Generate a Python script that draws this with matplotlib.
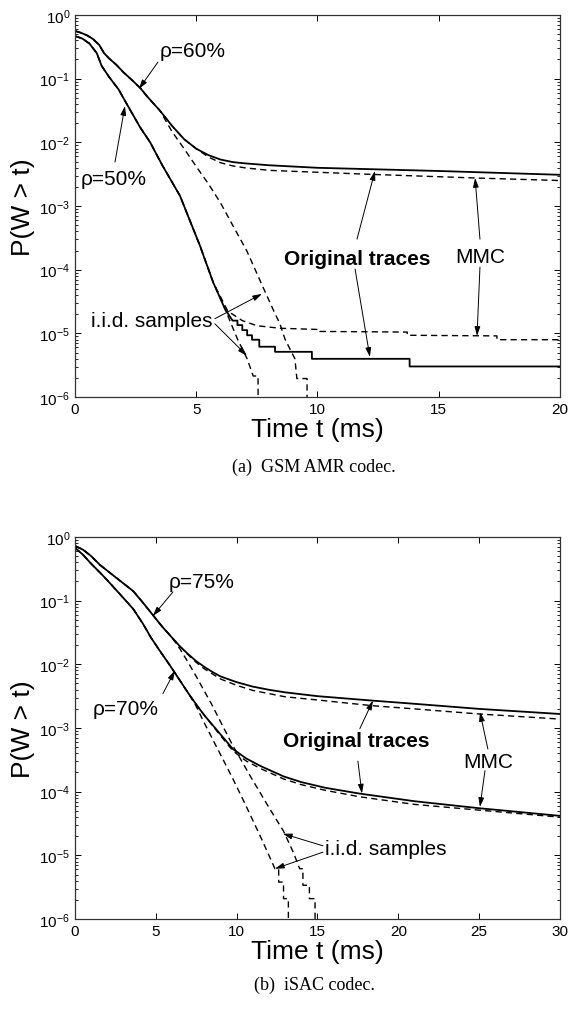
import matplotlib
matplotlib.use("Agg")
import matplotlib.pyplot as plt

plt.rcParams["font.family"] = ["Liberation Sans", "DejaVu Sans"]
plt.rcParams["mathtext.fontset"] = "custom"
plt.rcParams["mathtext.rm"] = "Liberation Sans"
plt.rcParams["mathtext.it"] = "Liberation Sans:italic"

# ---- (a) GSM AMR codec: czas [ms], log10 P(W > t) ----
a60_t = [0, 0.25, 0.5, 0.75, 1.0, 1.2, 1.4, 1.7, 2.0, 2.4, 2.7, 3.0, 3.5, 4.0, 4.5, 5.0, 5.5,
         6.0, 6.5, 7.0, 8.0, 10.0, 15.0, 20.0]
a60_orig = [-0.25, -0.28, -0.32, -0.38, -0.47, -0.60, -0.68, -0.78, -0.90, -1.04, -1.15, -1.29,
            -1.50, -1.74, -1.95, -2.10, -2.20, -2.27, -2.31, -2.33, -2.36, -2.40, -2.45, -2.51]
a60_mmc_t = [0, 0.25, 0.5, 0.75, 1.0, 1.2, 1.4, 1.7, 2.0, 2.4, 2.7, 3.0, 3.5, 4.0, 4.5, 5.0,
             5.5, 6.0, 6.5, 7.0, 8.0, 10.0, 12.0, 16.5, 20.0]
a60_mmc = [-0.25, -0.28, -0.32, -0.38, -0.47, -0.60, -0.68, -0.78, -0.90, -1.04, -1.15, -1.29,
           -1.50, -1.74, -1.95, -2.10, -2.23, -2.32, -2.37, -2.40, -2.44, -2.47, -2.50, -2.56,
           -2.60]
a60_iid_t = [0, 0.25, 0.5, 0.75, 1.0, 1.2, 1.4, 1.7, 2.0, 2.4, 2.7, 3.0, 3.5, 4.0, 4.5, 5.0,
             5.5, 6.0, 6.5, 7.08, 7.76, 8.2, 8.45, 8.66, 9.07, 9.15, 9.57, 9.57]
a60_iid = [-0.25, -0.28, -0.32, -0.38, -0.47, -0.60, -0.68, -0.78, -0.90, -1.04, -1.15, -1.29,
           -1.50, -1.83, -2.10, -2.38, -2.65, -2.95, -3.30, -3.70, -4.28, -4.65, -4.85, -5.09,
           -5.40, -5.71, -5.71, -6.5]

a50_t = [0, 0.3, 0.6, 0.9, 1.1, 1.4, 1.8, 2.14, 2.68, 3.1, 3.6, 4.33, 5.15, 5.7, 6.19, 6.5, 6.7,
         6.7, 6.9, 6.9, 7.1, 7.1, 7.3, 7.3, 7.6, 7.6, 8.25, 8.25, 9.77, 9.77, 13.8, 13.8, 20.0]
a50_orig = [-0.33, -0.37, -0.45, -0.60, -0.80, -0.97, -1.17, -1.40, -1.76, -2.00, -2.36, -2.84,
            -3.62, -4.20, -4.62, -4.80, -4.80, -4.87, -4.87, -4.95, -4.95, -5.03, -5.03, -5.10,
            -5.10, -5.21, -5.21, -5.29, -5.29, -5.40, -5.40, -5.52, -5.52]
a50_mmc_t = [0, 0.3, 0.6, 0.9, 1.1, 1.4, 1.8, 2.14, 2.68, 3.1, 3.6, 4.33, 5.15, 5.7, 6.3, 6.9,
             7.5, 8.45, 10.1, 10.1, 13.7, 13.7, 17.4, 17.4, 20.0]
a50_mmc = [-0.33, -0.37, -0.45, -0.60, -0.80, -0.97, -1.17, -1.40, -1.76, -2.00, -2.36, -2.84,
           -3.62, -4.20, -4.65, -4.80, -4.88, -4.92, -4.94, -4.97, -4.98, -5.03, -5.04, -5.10,
           -5.10]
a50_iid_t = [0, 0.3, 0.6, 0.9, 1.1, 1.4, 1.8, 2.14, 2.68, 3.1, 3.6, 4.33, 5.15, 5.7, 6.19, 6.7,
             7.1, 7.35, 7.55, 7.55]
a50_iid = [-0.33, -0.37, -0.45, -0.60, -0.80, -0.97, -1.17, -1.40, -1.76, -2.00, -2.36, -2.84,
           -3.62, -4.20, -4.62, -5.09, -5.40, -5.67, -5.67, -6.5]

# ---- (b) iSAC codec ----
b75_t = [0, 0.5, 1.0, 1.55, 2.0, 2.5, 3.0, 3.6, 4.2, 4.8, 5.4, 6.0, 6.5, 7.0, 7.5, 8.0, 8.5,
         9.0, 10.0, 11.0, 12.0, 13.0, 15.0, 18.4, 21.0, 25.0, 30.0]
b75_orig = [-0.14, -0.20, -0.30, -0.44, -0.53, -0.63, -0.73, -0.85, -1.03, -1.22, -1.41, -1.58,
            -1.72, -1.84, -1.95, -2.04, -2.12, -2.19, -2.28, -2.35, -2.40, -2.44, -2.50, -2.57,
            -2.62, -2.70, -2.78]
b75_mmc_t = [0, 0.5, 1.0, 1.55, 2.0, 2.5, 3.0, 3.6, 4.2, 4.8, 5.4, 6.0, 6.5, 7.0, 7.5, 8.0,
             8.5, 9.0, 10.0, 11.0, 12.0, 13.0, 15.0, 18.4, 21.0, 25.0, 30.0]
b75_mmc = [-0.14, -0.20, -0.30, -0.44, -0.53, -0.63, -0.73, -0.85, -1.03, -1.22, -1.41, -1.58,
           -1.72, -1.85, -1.97, -2.07, -2.15, -2.23, -2.33, -2.41, -2.46, -2.51, -2.56, -2.65,
           -2.70, -2.78, -2.86]
b75_iid_t = [0, 0.5, 1.0, 1.55, 2.0, 2.5, 3.0, 3.6, 4.2, 4.8, 5.4, 6.0, 6.5, 7.0, 7.5, 8.0, 8.5,
             9.0, 9.77, 10.9, 12.0, 12.9, 13.5, 13.9, 14.1, 14.1, 14.5, 14.5, 14.85, 14.85]
b75_iid = [-0.14, -0.20, -0.30, -0.44, -0.53, -0.63, -0.73, -0.85, -1.03, -1.22, -1.41, -1.58,
           -1.76, -1.97, -2.19, -2.42, -2.65, -2.90, -3.28, -3.78, -4.25, -4.62, -4.95, -5.21,
           -5.21, -5.47, -5.47, -5.68, -5.68, -6.5]

b70_t = [0, 0.5, 1.0, 1.55, 2.0, 2.5, 3.0, 3.6, 4.2, 4.7, 5.2, 5.8, 6.3, 7.0, 7.5, 8.0, 8.5,
         9.0, 9.77, 10.6, 11.5, 12.9, 14.0, 15.5, 17.6, 21.0, 25.0, 30.0]
b70_orig = [-0.17, -0.28, -0.42, -0.56, -0.68, -0.82, -0.96, -1.13, -1.36, -1.58, -1.77, -1.99,
            -2.18, -2.45, -2.63, -2.80, -2.95, -3.10, -3.33, -3.48, -3.60, -3.76, -3.85, -3.94,
            -4.03, -4.15, -4.26, -4.38]
b70_mmc_t = [0, 0.5, 1.0, 1.55, 2.0, 2.5, 3.0, 3.6, 4.2, 4.7, 5.2, 5.8, 6.3, 7.0, 7.5, 8.0,
             8.5, 9.0, 9.77, 10.6, 11.5, 12.9, 14.0, 15.5, 17.6, 21.0, 25.0, 30.0]
b70_mmc = [-0.17, -0.28, -0.42, -0.56, -0.68, -0.82, -0.96, -1.13, -1.36, -1.58, -1.77, -1.99,
           -2.18, -2.45, -2.63, -2.80, -2.96, -3.12, -3.36, -3.52, -3.64, -3.80, -3.89, -3.98,
           -4.08, -4.20, -4.29, -4.40]
b70_iid_t = [0, 0.5, 1.0, 1.55, 2.0, 2.5, 3.0, 3.6, 4.2, 4.7, 5.2, 5.8, 6.3, 7.0, 7.5, 7.9, 8.5,
             9.15, 9.77, 10.5, 11.5, 12.37, 12.6, 12.6, 12.9, 12.9, 13.2, 13.2]
b70_iid = [-0.17, -0.28, -0.42, -0.56, -0.68, -0.82, -0.96, -1.13, -1.36, -1.58, -1.77, -1.99,
           -2.18, -2.45, -2.66, -2.87, -3.17, -3.49, -3.80, -4.18, -4.72, -5.21, -5.21, -5.42,
           -5.42, -5.68, -5.68, -6.5]


def p(vals):
    return [10.0 ** v for v in vals]


def arrow(ax, tail, tip):
    ax.annotate("", xy=tip, xytext=tail,
                arrowprops=dict(arrowstyle="-|>,head_length=0.55,head_width=0.17",
                                lw=0.7, color="k", shrinkA=0, shrinkB=0))


def setup(ax, xmax, xt):
    ax.set_yscale("log")
    ax.set_ylim(1e-6, 1)
    ax.set_xlim(0, xmax)
    ax.set_xticks(xt)
    ax.set_yticks([1e-6, 1e-5, 1e-4, 1e-3, 1e-2, 1e-1, 1])
    ax.tick_params(which="both", direction="in", top=True, right=True, labelsize=11)
    ax.tick_params(which="major", length=4, width=0.7)
    ax.tick_params(which="minor", length=2.2, width=0.6)
    for s in ax.spines.values():
        s.set_linewidth(0.9)
        s.set_color("#333333")
    ax.set_xlabel("Time t (ms)", fontsize=19, labelpad=1)
    ax.set_ylabel("P(W > t)", fontsize=19, labelpad=3)


fig = plt.figure(figsize=(5.71, 10.12), dpi=100)
ax1 = fig.add_axes([0.1313, 0.6067, 0.8494, 0.3775])
ax2 = fig.add_axes([0.1313, 0.0909, 0.8494, 0.3775])

solid = dict(color="k", lw=1.3)
dash = dict(color="k", lw=1.0, dashes=(4.5, 3))

# panel (a)
ax1.plot(a60_iid_t, p(a60_iid), **dash)
ax1.plot(a50_iid_t, p(a50_iid), **dash)
ax1.plot(a60_mmc_t, p(a60_mmc), **dash)
ax1.plot(a50_mmc_t, p(a50_mmc), **dash)
ax1.plot(a60_t, p(a60_orig), **solid)
ax1.plot(a50_t, p(a50_orig), **solid)
setup(ax1, 20, [0, 5, 10, 15, 20])

ax1.text(4.87, 10 ** -0.565, "ρ=60%", fontsize=15, ha="center", va="center")
arrow(ax1, (3.42, 10 ** -0.74), (2.64, 10 ** -1.16))
ax1.text(1.61, 10 ** -2.575, "ρ=50%", fontsize=15, ha="center", va="center")
arrow(ax1, (1.65, 10 ** -2.31), (2.06, 10 ** -1.43))
ax1.text(11.63, 10 ** -3.83, "Original traces", fontsize=15, fontweight="bold",
         ha="center", va="center")
arrow(ax1, (11.63, 10 ** -3.52), (12.37, 10 ** -2.45))
arrow(ax1, (11.55, 10 ** -3.99), (12.16, 10 ** -5.37))
ax1.text(16.7, 10 ** -3.8, "MMC", fontsize=15, ha="center", va="center")
arrow(ax1, (16.7, 10 ** -3.52), (16.5, 10 ** -2.56))
arrow(ax1, (16.7, 10 ** -3.96), (16.58, 10 ** -5.04))
ax1.text(3.18, 10 ** -4.8, "i.i.d. samples", fontsize=15, ha="center", va="center")
arrow(ax1, (5.77, 10 ** -4.77), (7.71, 10 ** -4.38))
arrow(ax1, (5.77, 10 ** -4.85), (7.09, 10 ** -5.35))

# panel (b)
ax2.plot(b75_iid_t, p(b75_iid), **dash)
ax2.plot(b70_iid_t, p(b70_iid), **dash)
ax2.plot(b75_mmc_t, p(b75_mmc), **dash)
ax2.plot(b70_mmc_t, p(b70_mmc), **dash)
ax2.plot(b75_t, p(b75_orig), **solid)
ax2.plot(b70_t, p(b70_orig), **solid)
setup(ax2, 30, [0, 5, 10, 15, 20, 25, 30])

ax2.text(7.85, 10 ** -0.706, "ρ=75%", fontsize=15, ha="center", va="center")
arrow(ax2, (6.06, 10 ** -0.863), (4.82, 10 ** -1.24))
ax2.text(3.15, 10 ** -2.7, "ρ=70%", fontsize=15, ha="center", va="center")
arrow(ax2, (5.44, 10 ** -2.46), (6.18, 10 ** -2.10))
ax2.text(17.38, 10 ** -3.2, "Original traces", fontsize=15, fontweight="bold",
         ha="center", va="center")
arrow(ax2, (17.62, 10 ** -3.01), (18.43, 10 ** -2.57))
arrow(ax2, (17.5, 10 ** -3.52), (17.75, 10 ** -4.03))
ax2.text(25.54, 10 ** -3.53, "MMC", fontsize=15, ha="center", va="center")
arrow(ax2, (25.54, 10 ** -3.33), (25.05, 10 ** -2.75))
arrow(ax2, (25.36, 10 ** -3.67), (25.05, 10 ** -4.24))
ax2.text(19.23, 10 ** -4.9, "i.i.d. samples", fontsize=15, ha="center", va="center")
arrow(ax2, (15.34, 10 ** -4.85), (12.86, 10 ** -4.66))
arrow(ax2, (15.34, 10 ** -4.95), (12.37, 10 ** -5.21))

# podpisy
fig.text(0.55, 1 - 467 / 1012, "(a)  GSM AMR codec.", fontsize=13,
         family="Liberation Serif", ha="center", va="center")
fig.text(0.55, 1 - 985 / 1012, "(b)  iSAC codec.", fontsize=13,
         family="Liberation Serif", ha="center", va="center")

fig.savefig("out.png", dpi=100)
